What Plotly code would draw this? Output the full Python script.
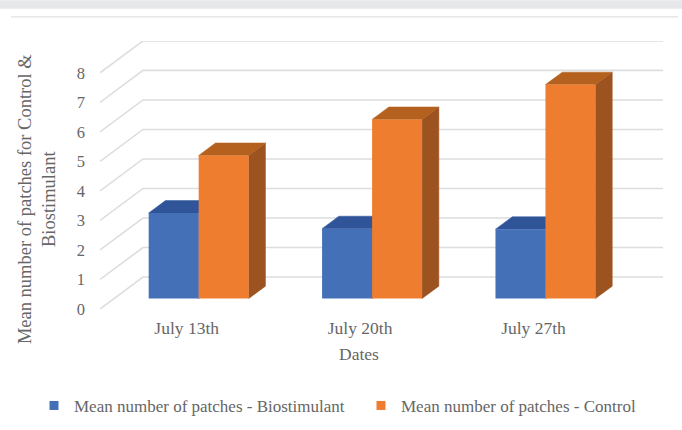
import plotly.graph_objects as go

# ---- data ----
categories = ["July 13th", "July 20th", "July 27th"]
biostimulant = [2.9, 2.37, 2.35]
control = [4.85, 6.07, 7.25]
y_ticks = [0, 1, 2, 3, 4, 5, 6, 7, 8]
series_names = ["Mean number of patches - Biostimulant", "Mean number of patches - Control"]

# ---- oblique projection, in axis units ----
W, H = 682, 430
L, R, B0, T = 100, 663, 309, 40.7     # plot area in px
CAT_PX = 173.4
UNIT_PX = 29.55
WALL_DX = 43 / CAT_PX                 # shift of back wall
WALL_DY = 32 / UNIT_PX
BAR_W = 50 / CAT_PX
FRONT_D = 0.325                       # bar front, fraction of floor depth
DEPTH_D = 0.39                        # bar depth, fraction of floor depth
GROUP_SHIFT = -2 / CAT_PX

FONT = "Liberation Serif"
GREY = "#666666"
GRID = "#dcdde0"

def px(x): return (x - L) / (R - L)
def py(y): return (B0 - y) / (B0 - T)

fig = go.Figure()

# wall gridlines
for v in y_ticks:
    fig.add_trace(go.Scatter(
        x=[0, WALL_DX, 3 + WALL_DX], y=[v, v + WALL_DY, v + WALL_DY],
        mode="lines", line=dict(color=GRID, width=1.6), zorder=0,
        showlegend=False, hoverinfo="skip", cliponaxis=False))

def poly(xs, ys, color, z):
    fig.add_trace(go.Scatter(
        x=xs + xs[:1], y=ys + ys[:1], mode="lines", fill="toself",
        fillcolor=color, line=dict(color=color, width=0.5), zorder=z,
        showlegend=False, hoverinfo="skip", cliponaxis=False))

def box(xc, v, front, top, side, z):
    x0 = xc + FRONT_D * WALL_DX
    y0 = FRONT_D * WALL_DY
    dx = DEPTH_D * WALL_DX
    dy = DEPTH_D * WALL_DY
    x1 = x0 + BAR_W
    yt = y0 + v
    poly([x1, x1 + dx, x1 + dx, x1], [y0, y0 + dy, yt + dy, yt], side, z)
    poly([x0, x1, x1 + dx, x0 + dx], [yt, yt, yt + dy, yt + dy], top, z)
    fig.add_trace(go.Bar(
        x=[x0 + BAR_W / 2], y=[v], base=[y0], width=[BAR_W],
        marker=dict(color=front, line=dict(width=0)), zorder=z + 1,
        showlegend=False, hoverinfo="skip"))

for i, cat in enumerate(categories):
    c = i + 0.5 + GROUP_SHIFT
    box(c - BAR_W, biostimulant[i], "#4470b8", "#2f5498", "#2f5498", 1)
    box(c, control[i], "#ee7d2f", "#b4601f", "#9c5320", 3)

# legend entries
for name, col in zip(series_names, ["#4470b8", "#ee7d2f"]):
    fig.add_trace(go.Scatter(x=[None], y=[None], mode="markers", name=name,
                             marker=dict(symbol="square", size=9, color=col)))

fig.update_layout(
    width=W, height=H, autosize=False, barmode="overlay",
    margin=dict(l=L, r=W - R, t=T, b=H - B0, autoexpand=False),
    paper_bgcolor="white", plot_bgcolor="rgba(0,0,0,0)",
    font=dict(family=FONT, color=GREY, size=15),
    xaxis=dict(range=[0, (R - L) / CAT_PX], tickmode="array",
               tickvals=[0.5, 1.5, 2.5], ticktext=categories,
               showgrid=False, zeroline=False, showline=False, ticks="",
               ticklabelstandoff=6, tickfont=dict(size=17.5)),
    yaxis=dict(range=[0, (B0 - T) / UNIT_PX], tickmode="array",
               tickvals=y_ticks, showgrid=False, zeroline=False,
               showline=False, ticks="", ticklabelstandoff=14,
               tickfont=dict(size=16.5)),
    legend=dict(orientation="h", xref="paper", yref="paper",
                x=px(34), y=py(388), xanchor="left", yanchor="top",
                entrywidth=282, entrywidthmode="pixels",
                font=dict(size=17, color=GREY), bgcolor="rgba(0,0,0,0)",
                traceorder="normal"),
    shapes=[
        dict(type="rect", xref="paper", yref="paper", x0=px(0), x1=px(W),
             y0=py(0), y1=py(8.5), fillcolor="#e6e7e9", line=dict(width=0), layer="below"),
        dict(type="line", xref="paper", yref="paper", x0=px(11), x1=px(678),
             y0=py(16.5), y1=py(16.5), line=dict(color="#dfe0e2", width=1.2), layer="below"),
    ],
    annotations=[
        dict(text="Mean number of patches for Control &<br>Biostimulant", textangle=-90,
             xref="paper", yref="paper", x=px(37), y=py(199), xanchor="center", yanchor="middle",
             showarrow=False, font=dict(size=18.5, color=GREY), align="center"),
        dict(text="Dates", xref="paper", yref="paper", x=px(359), y=py(354),
             xanchor="center", yanchor="middle",
             showarrow=False, font=dict(size=17.5, color=GREY)),
    ],
)
fig.write_html("out.html", post_script="document.body.style.margin='0';",
               config={"displayModeBar": False})
